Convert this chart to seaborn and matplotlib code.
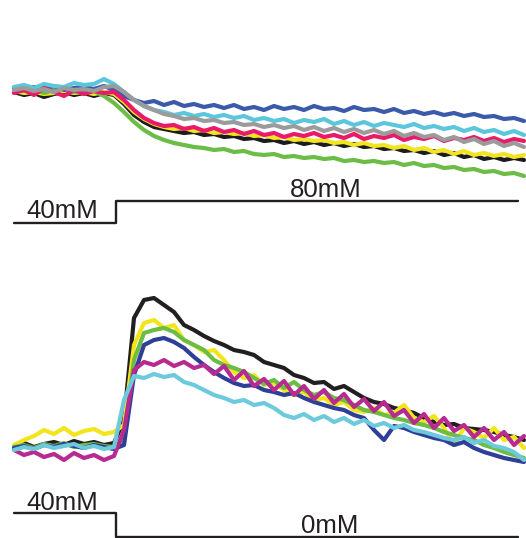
import numpy as np
import pandas as pd
import matplotlib
matplotlib.use("Agg")
import matplotlib.pyplot as plt
import seaborn as sns

# ---------------- data ----------------
# sample times (s), one sample every 2 s
time = np.arange(52) * 2.0

# Top panel: 40 mM -> 80 mM (fluorescence, a.u.)
top_blue = [112,110,113,111,114,110,112,113,111,114, 110,104,100,97,99,95,98,94,96,93,
            95,92,95,91,93,90,94,91,93,90, 94,91,92,89,93,90,91,88,91,87,
            89,86,88,85,87,84,86,83,84,81, 82,79]
top_cyan = [113,115,112,116,114,113,117,115,116,121, 116,108,100,94,90,88,85,87,84,86,
            83,85,82,84,80,82,79,81,77,80, 78,81,76,79,75,78,74,77,75,73,
            76,72,74,71,73,69,72,68,70,66, 69,65]
top_gray = [110,112,109,111,108,112,110,111,109,113, 114,108,100,94,90,86,84,81,82,79,
            80,77,78,75,76,73,75,72,74,70, 73,69,72,68,71,67,70,66,69,64,
            67,63,65,60,63,58,61,56,59,54, 57,53]
top_pink = [107,110,105,112,108,104,110,106,109,107, 108,100,90,82,77,74,75,71,73,69,
            72,68,70,66,69,65,67,63,66,64, 67,63,65,62,66,61,64,62,65,60,
            63,61,64,59,62,60,63,59,62,58, 61,59]
top_black = [108,105,107,103,106,108,105,107,104,107, 105,96,85,78,73,71,69,67,68,65,
             66,63,64,61,62,59,60,57,59,56, 58,55,57,54,56,53,54,51,52,49,
             50,47,49,45,47,43,45,41,43,40, 42,40]
top_yellow = [109,107,108,106,107,109,107,108,106,108, 106,98,88,81,76,73,71,72,69,70,
              67,68,66,67,64,65,62,63,60,61, 59,60,57,58,55,57,54,55,52,54,
              50,52,48,50,46,49,45,47,44,46, 43,45]
top_green = [112,109,111,107,110,112,108,110,109,104, 97,88,78,70,64,60,57,55,53,52,
             50,51,48,49,46,45,46,43,44,42, 43,41,42,39,40,38,39,37,38,35,
             37,34,35,32,33,30,31,28,29,26, 27,24]

# Bottom panel: 40 mM -> 0 mM (fluorescence, a.u.)
bot_black = [54,57,53,56,58,55,59,56,58,55, 57,80,182,200,202,195,188,175,170,164,
             159,155,150,148,145,138,135,132,125,122, 117,118,111,114,108,102,98,96,92,90,
             87,82,78,75,76,72,71,70,68,65, 63,60]
bot_yellow = [55,60,64,70,66,72,65,69,71,66, 68,75,155,177,180,172,175,160,155,148,
              150,140,128,122,125,115,117,110,105,108, 100,102,95,98,90,88,92,85,87,95,
              82,78,84,72,55,72,68,62,72,60, 63,52]
bot_green = [53,55,52,56,54,57,53,55,56,54, 53,60,140,167,170,172,168,160,155,150,
             140,135,132,128,122,116,120,112,118,110, 105,108,102,100,95,90,88,85,82,80,
             77,75,72,68,65,62,60,55,52,48, 45,42]
bot_blue = [52,54,51,55,53,56,54,52,55,53, 51,55,125,155,160,162,158,152,143,135,
            128,122,117,114,115,110,108,105,107,102, 98,95,92,90,85,82,70,60,74,72,
            68,65,62,60,55,58,52,48,45,42, 40,38]
bot_magenta = [50,45,48,43,46,40,47,42,45,40, 44,70,130,138,135,140,134,138,132,135,
               126,134,120,129,114,121,110,119,105,114, 101,110,97,106,93,101,89,98,84,90,
               77,86,72,82,69,75,63,72,60,68, 55,64]
bot_cyan = [50,53,51,55,52,54,56,52,54,51, 53,100,124,122,126,123,125,118,115,110,
            105,102,98,100,95,97,92,85,82,86, 80,84,78,82,76,80,74,77,72,75,
            70,68,65,62,60,63,57,60,54,52, 48,40]

# Stimulus protocols (concentration, mM)
stim_time = [0.0, 20.4, 100.8]
stim_top = [40, 80, 80]
stim_bot = [40, 0, 0]
top_labels = ["40mM", "80mM"]
bot_labels = ["40mM", "0mM"]

top_order = ["black", "yellow", "green", "blue", "cyan", "pink", "gray"]
top_series = {"black": top_black, "yellow": top_yellow, "green": top_green,
              "blue": top_blue, "cyan": top_cyan, "pink": top_pink, "gray": top_gray}
top_colors = {"black": "#1c1c1c", "yellow": "#f3e421", "green": "#6bbd45",
              "blue": "#3b5aaa", "cyan": "#5cc6dc", "pink": "#ea1a6b", "gray": "#9b9b9b"}

bot_order = ["black", "yellow", "green", "blue", "magenta", "cyan"]
bot_series = {"black": bot_black, "yellow": bot_yellow, "green": bot_green,
              "blue": bot_blue, "magenta": bot_magenta, "cyan": bot_cyan}
bot_colors = {"black": "#231f20", "yellow": "#f2e51c", "green": "#6cbd45",
              "blue": "#2e3f98", "magenta": "#b72a8f", "cyan": "#6ccadc"}


def long_df(series, order):
    frames = []
    for k in order:
        frames.append(pd.DataFrame({"time": time, "F": series[k], "trace": k}))
    return pd.concat(frames, ignore_index=True)


sns.set_theme(style="white")
plt.rcParams["font.family"] = ["Liberation Sans", "DejaVu Sans"]

W, H = 526, 538
fig = plt.figure(figsize=(W / 100, H / 100), dpi=100)
fig.patch.set_facecolor("white")

xlim = (-2.8, 102.4)


def rect(top_px, bottom_px):
    return [0, (H - bottom_px) / H, 1, (bottom_px - top_px) / H]


# ---- top traces ----
ax_t = fig.add_axes(rect(40, 260))
sns.lineplot(data=long_df(top_series, top_order), x="time", y="F", hue="trace",
             hue_order=top_order, palette=top_colors, linewidth=3.0,
             estimator=None, legend=False, ax=ax_t)
ax_t.set_xlim(*xlim)
ax_t.set_ylim(-60, 160)
ax_t.set_axis_off()

# ---- bottom traces ----
ax_b = fig.add_axes(rect(260, 538))
sns.lineplot(data=long_df(bot_series, bot_order), x="time", y="F", hue="trace",
             hue_order=bot_order, palette=bot_colors, linewidth=3.0,
             estimator=None, legend=False, ax=ax_b)
ax_b.set_xlim(*xlim)
ax_b.set_ylim(-38, 240)
ax_b.set_axis_off()

# ---- stimulus bars ----
ink = "#231f20"
ax_st = fig.add_axes(rect(190, 230))
sns.lineplot(x=stim_time, y=stim_top, drawstyle="steps-post", color=ink,
             linewidth=1.7, ax=ax_st, estimator=None)
ax_st.set_xlim(*xlim)
ax_st.set_ylim(27.27, 100)
ax_st.set_axis_off()
ax_st.text(9.6, 49.1, top_labels[0], ha="center", va="baseline", fontsize=18.5, color=ink)
ax_st.text(62.4, 87.3, top_labels[1], ha="center", va="baseline", fontsize=18.5, color=ink)

ax_sb = fig.add_axes(rect(490, 538))
sns.lineplot(x=stim_time, y=stim_bot, drawstyle="steps-post", color=ink,
             linewidth=1.7, ax=ax_sb, estimator=None)
ax_sb.set_xlim(*xlim)
ax_sb.set_ylim(-1.667, 78.33)
ax_sb.set_axis_off()
for ln in ax_sb.lines:
    ln.set_clip_on(False)
ax_sb.text(9.6, 45.0, bot_labels[0], ha="center", va="baseline", fontsize=18.5, color=ink)
ax_sb.text(63.2, 6.67, bot_labels[1], ha="center", va="baseline", fontsize=18.5, color=ink)

fig.savefig("out.png", dpi=100)
